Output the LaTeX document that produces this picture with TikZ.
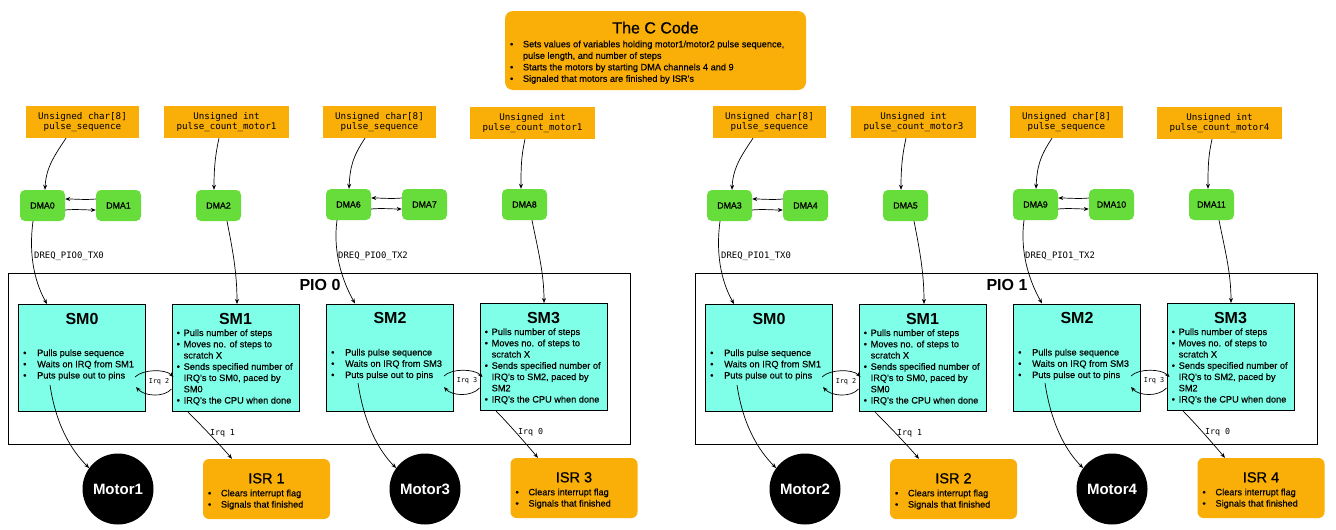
\documentclass[tikz,border=0pt]{standalone}
\usepackage{fontspec}
\setmainfont{Liberation Sans}
\setmonofont{DejaVu Sans Mono}
\newfontfamily\medfont[FakeBold=0.8]{Liberation Sans}
\newfontfamily\txtfont[FakeBold=0.3]{Liberation Sans}
\usetikzlibrary{arrows.meta}
\definecolor{cOrange}{RGB}{250,174,8}
\definecolor{cGreen}{RGB}{102,221,58}
\definecolor{cCyan}{RGB}{127,255,232}
\newcommand{\fs}[2]{\fontsize{#1}{#2}\selectfont}
\newcommand{\bd}[1]{\makebox[#1][l]{•}}
\tikzset{
 varbox/.style={fill=cOrange, inner sep=0pt, minimum height=32pt, align=center, font=\ttfamily\fs{9.2}{10}},
 dmabox/.style={fill=cGreen, rounded corners=5pt, minimum width=45pt, minimum height=31pt, inner sep=0pt, font=\medfont\fs{8.8}{11}},
 smbox/.style={draw=black, line width=1pt, fill=cCyan, minimum width=127pt, minimum height=107pt, inner sep=0pt},
 smtitle/.style={anchor=base, inner sep=0pt, font=\bfseries\fs{16}{18}},
 bul/.style={anchor=base west, inner sep=0pt, align=left, font=\txtfont\fs{9.2}{11.25}},
 isrbox/.style={fill=cOrange, rounded corners=6pt, minimum width=127pt, minimum height=60pt, inner sep=0pt},
 isrtitle/.style={anchor=base, inner sep=0pt, font=\medfont\fs{14.5}{16}},
 motor/.style={circle, fill=black, minimum size=71pt, inner sep=0pt, text=white, font=\bfseries\fs{15}{17}},
 piobox/.style={draw=black, line width=1pt, inner sep=0pt},
 conn/.style={-{Stealth[length=5pt,width=4pt]}, line width=0.7pt},
 irqlbl/.style={font=\ttfamily\fs{6.8}{8}, inner sep=0pt},
 lbl/.style={font=\ttfamily\fs{8.9}{10}, inner sep=0pt},
 lblsm/.style={font=\ttfamily\fs{8.3}{10}, inner sep=0pt},
}
% bullet nodes are anchored at the baseline of their LAST line
\newcommand{\halfdiagram}[9]{%
\begin{scope}[xshift=#1pt]
% PIO block
\node[piobox, minimum width=622pt, minimum height=171pt] (#2pio) at (319,358.5) {};
\node[anchor=base, inner sep=0pt, font=\bfseries\fs{16}{18}] (#2piolbl) at (320,290.5) {PIO #3};
% variables
\node[varbox, minimum width=113pt] (#2v1) at (82.5,122) {Unsigned char[8]\\pulse\_sequence};
\node[varbox, minimum width=125pt] (#2v2) at (226.5,122) {Unsigned int\\pulse\_count\_motor#4};
\node[varbox, minimum width=113pt] (#2v3) at (379.5,122) {Unsigned char[8]\\pulse\_sequence};
\node[varbox, minimum width=125pt] (#2v4) at (532.5,123) {Unsigned int\\pulse\_count\_motor#5};
% DMA channels
\node[dmabox] (#2d1) at (42.5,205.5) {DMA#8};
\node[dmabox] (#2d2) at (118.5,205.5) {DMA\the\numexpr#8+1\relax};
\node[dmabox] (#2d3) at (218.5,205.5) {DMA\the\numexpr#8+2\relax};
\node[dmabox] (#2d4) at (348.5,204.5) {DMA#9};
\node[dmabox] (#2d5) at (424.5,204.5) {DMA\the\numexpr#9+1\relax};
\node[dmabox] (#2d6) at (524.5,204.5) {DMA\the\numexpr#9+2\relax};
% state machines
\node[smbox] (#2s0) at (82,358) {};
\node[smbox] (#2s1) at (235.5,358) {};
\node[smbox] (#2s2) at (390,357.5) {};
\node[smbox] (#2s3) at (543.5,357) {};
\node[smtitle] (#2s0h) at ([yshift=-20pt]#2s0.north) {SM0};
\node[smtitle] (#2s1h) at ([yshift=-20pt]#2s1.north) {SM1};
\node[smtitle] (#2s2h) at ([yshift=-20pt]#2s2.north) {SM2};
\node[smtitle] (#2s3h) at ([yshift=-20pt]#2s3.north) {SM3};
\node[bul] (#2s0b) at ([xshift=5pt,yshift=-74.5pt]#2s0.north west) {\bd{14pt}Pulls pulse sequence\\\bd{14pt}Waits on IRQ from SM1\\\bd{14pt}Puts pulse out to pins};
\node[bul] (#2s2b) at ([xshift=5pt,yshift=-74.5pt]#2s2.north west) {\bd{14pt}Pulls pulse sequence\\\bd{14pt}Waits on IRQ from SM3\\\bd{14pt}Puts pulse out to pins};
\node[bul] (#2s1b) at ([xshift=5pt,yshift=-99.5pt]#2s1.north west) {\bd{7pt}Pulls number of steps\\\bd{7pt}Moves no. of steps to\\\hspace*{7pt}scratch X\\\bd{7pt}Sends specified number of\\\hspace*{7pt}IRQ's to SM0, paced by\\\hspace*{7pt}SM0\\\bd{7pt}IRQ's the CPU when done};
\node[bul] (#2s3b) at ([xshift=5pt,yshift=-99.5pt]#2s3.north west) {\bd{7pt}Pulls number of steps\\\bd{7pt}Moves no. of steps to\\\hspace*{7pt}scratch X\\\bd{7pt}Sends specified number of\\\hspace*{7pt}IRQ's to SM2, paced by\\\hspace*{7pt}SM2\\\bd{7pt}IRQ's the CPU when done};
% motors and ISRs
\node[motor] (#2m1) at (118,489) {Motor#6};
\node[motor] (#2m2) at (425,489) {Motor#7};
\node[isrbox] (#2i1) at (266.5,489) {};
\node[isrbox] (#2i2) at (574,488) {};
\node[isrtitle] (#2i1h) at ([yshift=-24.5pt]#2i1.north) {ISR #6};
\node[isrtitle] (#2i2h) at ([yshift=-24.5pt]#2i2.north) {ISR #7};
\node[bul] (#2i1b) at ([xshift=5pt,yshift=-48.75pt]#2i1.north west) {\bd{13pt}Clears interrupt flag\\\bd{13pt}Signals that finished};
\node[bul] (#2i2b) at ([xshift=5pt,yshift=-48.75pt]#2i2.north west) {\bd{13pt}Clears interrupt flag\\\bd{13pt}Signals that finished};
% variable -> DMA
\draw[conn] ([xshift=-16.5pt]#2v1.south) .. controls +(-12,18) and +(1,-22) .. ([xshift=2.5pt]#2d1.north);
\draw[conn] ([xshift=-7.5pt]#2v2.south) .. controls +(-4,18) and +(0,-20) .. ([xshift=-4.5pt]#2d3.north);
\draw[conn] ([xshift=-14.5pt]#2v3.south) .. controls +(-12,18) and +(1,-22) .. ([xshift=0.5pt]#2d4.north);
\draw[conn] ([xshift=-7.5pt]#2v4.south) .. controls +(-4,18) and +(0,-20) .. ([xshift=-3.5pt]#2d6.north);
% DMA chaining
\draw[conn] ([yshift=6.5pt]#2d2.west) .. controls +(-10,1) and +(10,0) .. ([yshift=6.5pt]#2d1.east);
\draw[conn] ([yshift=-4.5pt]#2d1.east) .. controls +(10,-1) and +(-10,0) .. ([yshift=-4.5pt]#2d2.west);
\draw[conn] ([yshift=6.5pt]#2d5.west) .. controls +(-10,1) and +(10,0) .. ([yshift=6.5pt]#2d4.east);
\draw[conn] ([yshift=-4.5pt]#2d4.east) .. controls +(10,-1) and +(-10,0) .. ([yshift=-4.5pt]#2d5.west);
% DMA -> SM
\draw[conn] ([xshift=-9.5pt]#2d1.south) .. controls +(-4,30) and +(-14,-25) .. ([xshift=-35pt]#2s0.north);
\node[lbl, anchor=west] (#2dreq0) at (34,256) {DREQ\_PIO#3\_TX0};
\draw[conn] ([xshift=8.5pt]#2d3.south) .. controls +(6,30) and +(0,-30) .. ([xshift=1.5pt]#2s1.north);
\draw[conn] ([xshift=-11.5pt]#2d4.south) .. controls +(-4,30) and +(-14,-25) .. ([xshift=-35pt]#2s2.north);
\node[lbl, anchor=west] (#2dreq2) at (338,256) {DREQ\_PIO#3\_TX2};
\draw[conn] ([xshift=7.5pt]#2d6.south) .. controls +(6,30) and +(0,-30) .. ([xshift=0.5pt]#2s3.north);
% IRQ between SMs
\draw[conn] ([xshift=-11pt,yshift=-19pt]#2s0.east) .. controls +(8,-8) and +(-8,-8) .. ([xshift=2pt,yshift=-19pt]#2s1.west);
\draw[conn] ([yshift=-31pt]#2s1.west) .. controls +(-8,9) and +(8,9) .. ([xshift=-10pt,yshift=-29pt]#2s0.east);
\node[irqlbl] (#2irq2) at (159,382) {Irq 2};
\draw[conn] ([xshift=-10pt,yshift=-18.5pt]#2s2.east) .. controls +(8,-8) and +(-8,-8) .. ([xshift=3pt,yshift=-20pt]#2s3.west);
\draw[conn] ([yshift=-31pt]#2s3.west) .. controls +(-8,9) and +(8,9) .. ([xshift=-10pt,yshift=-29.5pt]#2s2.east);
\node[irqlbl] (#2irq3) at (467,381) {Irq 3};
% SM -> motor
\draw[conn] ([xshift=-32pt,yshift=-27pt]#2s0.center) .. controls +(6,40) and +(-18,-18) .. (#2m1.144);
\draw[conn] ([xshift=-32pt,yshift=-25.5pt]#2s2.center) .. controls +(6,40) and +(-18,-18) .. (#2m2.144);
% SM -> ISR
\draw[conn] ([xshift=-47.5pt]#2s1.south) .. controls +(12,12) and +(-12,-14) .. ([xshift=-34.5pt]#2i1.north);
\node[lblsm] (#2irq1) at (222.5,433) {Irq 1};
\draw[conn] ([xshift=-47.5pt]#2s3.south) .. controls +(12,12) and +(-12,-14) .. ([xshift=-36pt]#2i2.north);
\node[lblsm] (#2irq0) at (530.5,432) {Irq 0};
\end{scope}}
\begin{document}
\begin{tikzpicture}[x=1pt,y=-1pt]
\fill[white] (0,0) rectangle (1336,530);
\useasboundingbox (0,0) rectangle (1336,530);
\node[fill=cOrange, rounded corners=8pt, minimum width=301pt, minimum height=79pt, inner sep=0pt] (code) at (655.5,50.5) {};
\node[anchor=base, inner sep=0pt, font=\medfont\fs{16}{18}] (codeh) at ([yshift=-22.6pt]code.north) {The C Code};
\node[bul, font=\txtfont\fs{9.2}{11.5}] (codeb) at ([xshift=5pt,yshift=-71pt]code.north west) {\bd{13pt}Sets values of variables holding motor1/motor2 pulse sequence,\\\hspace*{13pt}pulse length, and number of steps\\\bd{13pt}Starts the motors by starting DMA channels 4 and 9\\\bd{13pt}Signaled that motors are finished by ISR's};
\halfdiagram{0}{L}{0}{1}{1}{1}{3}{0}{6}
\halfdiagram{687}{R}{1}{3}{4}{2}{4}{3}{9}
\end{tikzpicture}
\end{document}
